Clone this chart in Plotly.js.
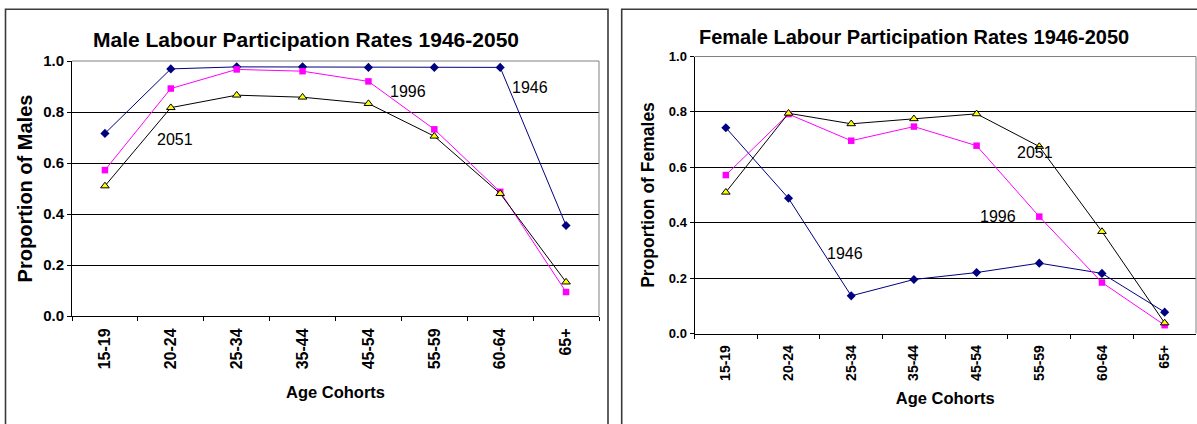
<!DOCTYPE html>
<html>
<head>
<meta charset="utf-8">
<script src="https://cdn.plot.ly/plotly-3.0.1.min.js"></script>
<style>
  html, body { margin: 0; padding: 0; background: #ffffff; }
  #chart { width: 1197px; height: 424px; }
</style>
</head>
<body>
<div id="chart"></div>
<script>
// ---- Data ----
const categories = ['15-19', '20-24', '25-34', '35-44', '45-54', '55-59', '60-64', '65+'];
const male1946 = [0.716, 0.969, 0.977, 0.977, 0.975, 0.975, 0.975, 0.355];
const male1996 = [0.572, 0.892, 0.967, 0.960, 0.920, 0.732, 0.487, 0.094];
const male2051 = [0.510, 0.817, 0.866, 0.858, 0.833, 0.705, 0.480, 0.133];
const female1946 = [0.743, 0.488, 0.136, 0.195, 0.220, 0.254, 0.217, 0.077];
const female1996 = [0.572, 0.792, 0.696, 0.747, 0.678, 0.422, 0.184, 0.030];
const female2051 = [0.510, 0.795, 0.757, 0.775, 0.793, 0.675, 0.368, 0.038];
const seriesNames = ['1946', '1996', '2051'];
const yTickValues = [0, 0.2, 0.4, 0.6, 0.8, 1.0];
const yTickLabels = ['0.0', '0.2', '0.4', '0.6', '0.8', '1.0'];
const maleTitle = 'Male Labour Participation Rates 1946-2050';
const femaleTitle = 'Female Labour Participation Rates 1946-2050';
const xTitle = 'Age Cohorts';
const maleYTitle = 'Proportion of Males';
const femaleYTitle = 'Proportion of Females';

// ---- Styles ----
const W = 1197, H = 424;
const FONT = 'Arial, "Liberation Sans", sans-serif';
const styles = [
  { line: { color: '#000080', width: 1 }, marker: { symbol: 'diamond', size: 7, color: '#000080', line: { width: 0 } } },
  { line: { color: '#FF00FF', width: 1 }, marker: { symbol: 'square', size: 6.5, color: '#FF00FF', line: { width: 0 } } },
  { line: { color: '#000000', width: 1 }, marker: { symbol: 'triangle-up', size: 7.5, color: '#FFFF00', line: { color: '#000000', width: 1 } } }
];

function mkTrace(vals, idx, xa, ya) {
  return {
    type: 'scatter', mode: 'lines+markers', x: categories, y: vals,
    name: seriesNames[idx], xaxis: xa, yaxis: ya,
    line: styles[idx].line, marker: styles[idx].marker,
    hoverinfo: 'x+y+name', cliponaxis: false
  };
}

const traces = [
  mkTrace(male1946, 0, 'x', 'y'),
  mkTrace(male1996, 1, 'x', 'y'),
  mkTrace(male2051, 2, 'x', 'y'),
  mkTrace(female1946, 0, 'x2', 'y2'),
  mkTrace(female1996, 1, 'x2', 'y2'),
  mkTrace(female2051, 2, 'x2', 'y2')
];

// plot-area pixel geometry
const L = { x0: 72, x1: 599, yTop: 61, yBot: 316 };
const R = { x0: 694.5, x1: 1196, yTop: 56.5, yBot: 333.5 };
const px = v => v / W;
const py = v => 1 - v / H;

function xAxis(geom, tickSize, labelGap, titleSize, standoff) {
  return {
    domain: [px(geom.x0), px(geom.x1)],
    type: 'category', range: [-0.5, 7.5],
    tickson: 'boundaries', ticks: 'outside', ticklen: 4, tickcolor: '#000', tickwidth: 1,
    ticklabelstandoff: labelGap,
    showline: true, linecolor: '#000', linewidth: 1,
    showgrid: false, zeroline: false,
    tickangle: -90,
    tickfont: { family: FONT, size: tickSize, color: '#000', weight: 'bold' },
    title: { text: xTitle, font: { family: FONT, size: titleSize, color: '#000', weight: 'bold' }, standoff: standoff },
    automargin: false, fixedrange: true
  };
}
function yAxis(geom, tickSize, title, titleSize, standoff) {
  return {
    domain: [py(geom.yBot), py(geom.yTop)],
    range: [0, 1],
    tickmode: 'array', tickvals: yTickValues, ticktext: yTickLabels,
    ticks: 'outside', ticklen: 4, tickcolor: '#000', tickwidth: 1,
    showline: true, linecolor: '#000', linewidth: 1,
    showgrid: true, gridcolor: '#000', gridwidth: 1, zeroline: false,
    tickfont: { family: FONT, size: tickSize, color: '#000', weight: 'bold' },
    title: { text: title, font: { family: FONT, size: titleSize, color: '#000', weight: 'bold' }, standoff: standoff },
    automargin: false, fixedrange: true
  };
}

const boxColor = '#3a3a3a';
const layout = {
  width: W, height: H,
  margin: { l: 0, r: 0, t: 0, b: 0 },
  paper_bgcolor: '#ffffff', plot_bgcolor: '#ffffff',
  showlegend: false,
  font: { family: FONT, color: '#000' },
  xaxis: xAxis(L, 16, 5, 16.5, 18),
  yaxis: Object.assign(yAxis(L, 15, maleYTitle, 20, 5), { anchor: 'x' }),
  xaxis2: Object.assign(xAxis(R, 14, 5, 16.5, 12), { anchor: 'y2' }),
  yaxis2: Object.assign(yAxis(R, 13, femaleYTitle, 17.5, 9), { anchor: 'x2' }),
  shapes: [
    // chart frames
    { type: 'rect', xref: 'paper', yref: 'paper', x0: px(5.5), x1: px(608), y0: py(440), y1: py(9.3), line: { color: boxColor, width: 1.6 }, layer: 'below' },
    { type: 'rect', xref: 'paper', yref: 'paper', x0: px(621.7), x1: px(1215), y0: py(440), y1: py(9.3), line: { color: boxColor, width: 1.6 }, layer: 'below' },
    // plot area top/right border (gray)
    { type: 'line', xref: 'paper', yref: 'paper', x0: px(L.x0), x1: px(L.x1), y0: py(L.yTop), y1: py(L.yTop), line: { color: '#808080', width: 1 } },
    { type: 'line', xref: 'paper', yref: 'paper', x0: px(L.x1), x1: px(L.x1), y0: py(L.yTop), y1: py(L.yBot), line: { color: '#808080', width: 1 } },
    { type: 'line', xref: 'paper', yref: 'paper', x0: px(R.x0), x1: px(R.x1), y0: py(R.yTop), y1: py(R.yTop), line: { color: '#808080', width: 1 } },
    { type: 'line', xref: 'paper', yref: 'paper', x0: px(R.x1), x1: px(R.x1), y0: py(R.yTop), y1: py(R.yBot), line: { color: '#808080', width: 1 } }
  ],
  annotations: [
    { xref: 'paper', yref: 'paper', x: px(306), y: py(39.5), text: maleTitle, showarrow: false, xanchor: 'center', yanchor: 'middle', font: { family: FONT, size: 21, color: '#000', weight: 'bold' } },
    { xref: 'paper', yref: 'paper', x: px(914), y: py(37), text: femaleTitle, showarrow: false, xanchor: 'center', yanchor: 'middle', font: { family: FONT, size: 20, color: '#000', weight: 'bold' } },
    // series labels (male)
    { xref: 'x', yref: 'y', x: 4.60, y: 0.880, text: seriesNames[1], showarrow: false, font: { family: FONT, size: 16, color: '#000' } },
    { xref: 'x', yref: 'y', x: 6.45, y: 0.898, text: seriesNames[0], showarrow: false, font: { family: FONT, size: 16, color: '#000' } },
    { xref: 'x', yref: 'y', x: 1.07, y: 0.694, text: seriesNames[2], showarrow: false, font: { family: FONT, size: 16, color: '#000' } },
    // series labels (female)
    { xref: 'x2', yref: 'y2', x: 4.93, y: 0.655, text: seriesNames[2], showarrow: false, font: { family: FONT, size: 16, color: '#000' } },
    { xref: 'x2', yref: 'y2', x: 4.34, y: 0.424, text: seriesNames[1], showarrow: false, font: { family: FONT, size: 16, color: '#000' } },
    { xref: 'x2', yref: 'y2', x: 1.90, y: 0.290, text: seriesNames[0], showarrow: false, font: { family: FONT, size: 16, color: '#000' } }
  ]
};

Plotly.newPlot('chart', traces, layout, { displayModeBar: false, staticPlot: true });
</script>
</body>
</html>
